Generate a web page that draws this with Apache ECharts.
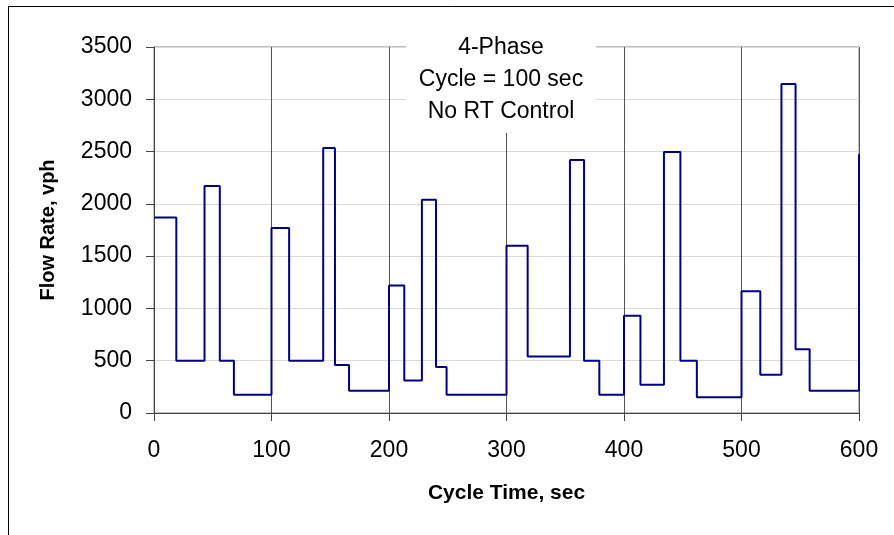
<!DOCTYPE html>
<html>
<head>
<meta charset="utf-8">
<script src="https://cdn.jsdelivr.net/npm/echarts@6/dist/echarts.min.js"></script>
<style>
html,body{margin:0;padding:0;background:#fff;}
#chart{width:894px;height:535px;}
</style>
</head>
<body>
<div id="chart"></div>
<script>
// Step start times (sec) and flow rate (vph) held from each time until the next
const changeTimes = [0, 19, 43, 56, 68, 100, 115, 144, 154, 166, 200, 213, 228, 240, 249, 300, 318, 354, 366, 379, 400, 414, 434, 448, 462, 500, 516, 534, 546, 558, 600];
const flowValues  = [1870, 500, 2170, 500, 175, 1770, 500, 2535, 460, 212, 1220, 310, 2040, 440, 175, 1600, 540, 2420, 500, 175, 930, 270, 2495, 500, 150, 1165, 365, 3145, 610, 212, 2475];
const xTicks = [0, 100, 200, 300, 400, 500, 600];
const yTicks = [0, 500, 1000, 1500, 2000, 2500, 3000, 3500];
const noteLines = ['4-Phase', 'Cycle = 100 sec', 'No RT Control'];

const seriesData = changeTimes.map((t, i) => [t, flowValues[i]]);
const FONT = '"Liberation Sans", Arial, sans-serif';

const chart = echarts.init(document.getElementById('chart'), null, {renderer: 'canvas'});
chart.setOption({
  animation: false,
  backgroundColor: '#fff',
  grid: {left: 154, right: 35, top: 47, bottom: 122, show: true, borderColor: '#808080', borderWidth: 1, backgroundColor: 'transparent'},
  xAxis: {
    type: 'value', min: xTicks[0], max: xTicks[xTicks.length - 1], interval: 100,
    name: 'Cycle Time, sec', nameLocation: 'middle', nameGap: 70,
    nameTextStyle: {fontFamily: FONT, fontSize: 21, fontWeight: 'bold', color: '#000'},
    axisLine: {show: true, lineStyle: {color: '#444', width: 1}},
    axisTick: {show: true, length: 8, inside: false, lineStyle: {color: '#444'}},
    axisLabel: {fontFamily: FONT, fontSize: 23, color: '#000', margin: 26, formatter: v => String(v)},
    splitLine: {show: true, lineStyle: {color: '#555', width: 1}}
  },
  yAxis: {
    type: 'value', min: yTicks[0], max: yTicks[yTicks.length - 1], interval: 500,
    name: 'Flow Rate, vph', nameLocation: 'middle', nameGap: 96, nameRotate: 90,
    nameTextStyle: {fontFamily: FONT, fontSize: 20, fontWeight: 'bold', color: '#000'},
    axisLine: {show: true, lineStyle: {color: '#444', width: 1}},
    axisTick: {show: true, length: 8, inside: false, lineStyle: {color: '#444'}},
    axisLabel: {fontFamily: FONT, fontSize: 23, color: '#000', margin: 22, formatter: v => String(v)},
    splitLine: {show: true, lineStyle: {color: '#d9d9d9', width: 1}}
  },
  series: [{
    type: 'line', step: 'end', data: seriesData, showSymbol: false, symbol: 'none',
    lineStyle: {color: '#000080', width: 2}, z: 3
  }],
  graphic: [
    {type: 'rect', z: 100, shape: {x: 8.5, y: 6.5, width: 1000, height: 1000}, style: {fill: null, stroke: '#000', lineWidth: 1}},
    {type: 'rect', z: 100, shape: {x: 406, y: 30, width: 190, height: 103}, style: {fill: '#fff', stroke: null}},
    {type: 'text', z: 101, x: 501, y: 32, style: {text: noteLines.join('\n'), font: '23px ' + FONT, fill: '#000', textAlign: 'center', textVerticalAlign: 'top', lineHeight: 32}}
  ]
});
</script>
</body>
</html>
